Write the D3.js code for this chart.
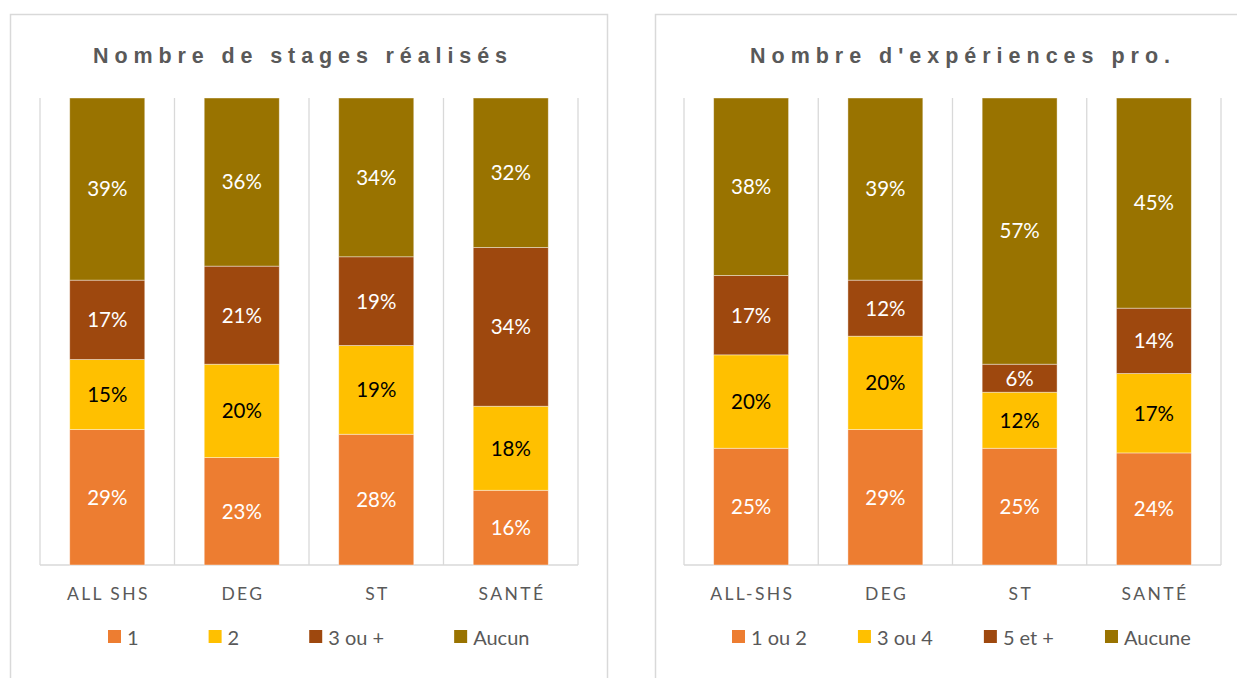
<!DOCTYPE html>
<html><head><meta charset="utf-8">
<script src="https://cdn.jsdelivr.net/npm/d3@7"></script>
<style>html,body{margin:0;padding:0;background:#fff;}svg{display:block;}</style>
</head><body>
<svg id="c" width="1237" height="678"></svg>
<script>
// ---- data ----
const titleLeft = "Nombre de stages réalisés";
const titleRight = "Nombre d'expériences pro.";
const catsLeft = ["ALL SHS", "DEG", "ST", "SANTÉ"];
const catsRight = ["ALL-SHS", "DEG", "ST", "SANTÉ"];
const seriesLeft = ["1", "2", "3 ou +", "Aucun"];
const seriesRight = ["1 ou 2", "3 ou 4", "5 et +", "Aucune"];
// values per series (bottom to top), per category
const stages1 = [29, 23, 28, 16];
const stages2 = [15, 20, 19, 18];
const stages3 = [17, 21, 19, 34];
const stagesAucun = [39, 36, 34, 32];
const exp12 = [25, 29, 25, 24];
const exp34 = [20, 20, 12, 17];
const exp5 = [17, 12, 6, 14];
const expAucune = [38, 39, 57, 45];

const colors = ["#ED7D31", "#FFC000", "#9E480E", "#997300"];
const labelColors = ["#fff", "#000", "#fff", "#fff"];

const svg = d3.select("#c");

function panel(opt) {
  const g = svg.append("g");
  // panel border
  g.append("rect").attr("x", opt.box[0]).attr("y", opt.box[1]).attr("width", opt.box[2]).attr("height", opt.box[3])
    .attr("fill", "#fff").attr("stroke", "#d9d9d9").attr("stroke-width", 1.5);
  // title, letter-spaced to span the target width
  const title = g.append("text").attr("x", opt.titleX).attr("y", 63).attr("text-anchor", "middle")
    .style("font-family", "Liberation Sans, Arial, sans-serif").style("font-weight", "bold")
    .style("font-size", "21.5px").attr("fill", "#595959").text(opt.title);
  const natural = title.node().getComputedTextLength();
  const ls = (opt.titleW - natural) / (opt.title.length - 1);
  title.style("letter-spacing", ls + "px").attr("x", opt.titleX + ls / 2);

  const x = d3.scaleBand().domain(opt.cats).range(opt.xr).paddingInner(0.442).paddingOuter(0.221);
  const y = d3.scaleLinear().domain([0, 100]).range([565, 98]);

  // gridlines (category separators)
  const step = x.step();
  const seps = d3.range(opt.cats.length + 1).map(i => opt.xr[0] + i * step);
  g.selectAll("line.sep").data(seps).join("line")
    .attr("x1", d => d).attr("x2", d => d).attr("y1", y(100)).attr("y2", y(0))
    .attr("stroke", "#d9d9d9").attr("stroke-width", 1.3);
  g.append("line").attr("x1", opt.xr[0]).attr("x2", opt.xr[1]).attr("y1", y(0)).attr("y2", y(0))
    .attr("stroke", "#d9d9d9").attr("stroke-width", 1.5);

  const rows = opt.cats.map((c, i) => {
    const r = { cat: c };
    opt.series.forEach((s, j) => r[s] = opt.values[j][i]);
    return r;
  });
  const stacked = d3.stack().keys(opt.series)(rows);

  stacked.forEach((layer, j) => {
    const lg = g.append("g");
    lg.selectAll("rect").data(layer).join("rect")
      .attr("x", d => x(d.data.cat)).attr("width", x.bandwidth())
      .attr("y", d => y(d[1])).attr("height", d => y(d[0]) - y(d[1]))
      .attr("fill", colors[j]).attr("stroke", "rgba(255,255,255,0.5)").attr("stroke-width", 0.8);
    lg.selectAll("text").data(layer).join("text")
      .attr("x", d => x(d.data.cat) + x.bandwidth() / 2)
      .attr("y", d => (y(d[0]) + y(d[1])) / 2).attr("dy", "0.36em")
      .attr("text-anchor", "middle").attr("fill", labelColors[j])
      .style("font-family", "Lato, 'Open Sans', sans-serif").style("font-size", "20.5px")
      .text(d => (d[1] - d[0]) + "%");
  });

  // category labels
  g.selectAll("text.cat").data(opt.cats).join("text").attr("class", "cat")
    .attr("x", d => x(d) + x.bandwidth() / 2 + 1.2).attr("y", 600).attr("text-anchor", "middle")
    .style("font-family", "Lato, 'Open Sans', sans-serif").style("font-size", "17.5px").style("letter-spacing", "2.4px")
    .attr("fill", "#595959").text(d => d);

  // legend
  let lx = opt.legendX;
  opt.series.forEach((s, j) => {
    g.append("rect").attr("x", lx).attr("y", 630).attr("width", 13).attr("height", 13).attr("fill", colors[j]);
    const t = g.append("text").attr("x", lx + 19).attr("y", 644.5)
      .style("font-family", "Lato, 'Open Sans', sans-serif").style("font-size", "20px")
      .attr("fill", "#595959").text(s);
    lx += 19 + t.node().getComputedTextLength() + opt.legendGap;
  });
}

panel({ box: [10.5, 14.5, 597, 700], title: titleLeft, titleX: 300, titleW: 414, cats: catsLeft, series: seriesLeft,
  values: [stages1, stages2, stages3, stagesAucun], xr: [40, 578], legendX: 108, legendGap: 70 });
panel({ box: [655.5, 14.5, 700, 700], title: titleRight, titleX: 960, titleW: 420, cats: catsRight, series: seriesRight,
  values: [exp12, exp34, exp5, expAucune], xr: [684, 1221], legendX: 732, legendGap: 51 });
</script>
</body></html>
